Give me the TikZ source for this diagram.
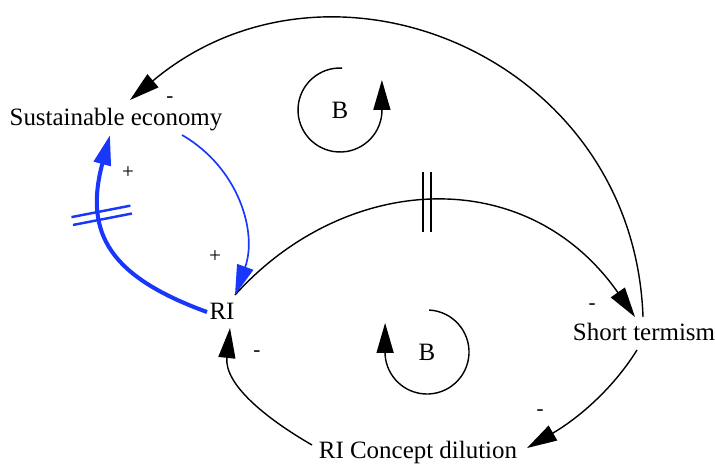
\documentclass[tikz,border=0pt]{standalone}
\usepackage{fontspec}
\setmainfont{Liberation Serif}
\usepackage{tikz}
\usetikzlibrary{arrows.meta, decorations.markings}
\definecolor{linkblue}{RGB}{25,55,250}

\tikzset{
  var/.style={anchor=base, inner sep=0pt, font=\fontsize{14.2}{17}\selectfont},
  loopname/.style={inner sep=0pt, font=\fontsize{14.2}{17}\selectfont},
  sign/.style={inner sep=0pt, font=\fontsize{12}{14}\selectfont},
  link/.style={line width=0.8pt, -{Triangle[length=0.6cm, width=0.34cm]}},
  bluelink/.style={link, linkblue, line width=0.95pt},
  delay/.style n args={3}{postaction={decorate}, decoration={markings,
    mark=at position #1 with {\pgftransformresetnontranslations
      \draw[-, line width=#2, rotate=#3] (-4,-30) -- (-4,30) (4,-30) -- (4,30);}}},
}

\begin{document}
\begin{tikzpicture}[x=0.02cm, y=0.02cm]
  \useasboundingbox (0,0) rectangle (715,464);
  \node[var] (se) at (116,339) {Sustainable economy};
  \node[var] (ri) at (222,145) {RI};
  \node[var] (st) at (644,124) {Short termism};
  \node[var] (rcd) at (418,6) {RI Concept dilution};
  \node[loopname] (btop) at (340,354) {B};
  \node[loopname] (bbot) at (427,112) {B};

  \draw[link] ([shift={(-1,23)}]st.base) to[out=92, in=40, looseness=1.2] ([shift={(14,25)}]se.base);
  \draw[link, delay={0.47}{0.8pt}{0}] ([shift={(13,24)}]ri.base) to[out=48, in=125, out looseness=1.05, in looseness=1.21] ([shift={(-9,23)}]st.base);
  \draw[bluelink] ([shift={(66,-10)}]se.base) to[out=-30, in=70] ([shift={(13,24)}]ri.base);
  \draw[bluelink, line width=2.3pt, delay={0.65}{1.4pt}{-79}] ([shift={(-15,7)}]ri.base) to[out=160, in=-105, looseness=1.3] ([shift={(-6,-10)}]se.base);
  \draw[link] ([shift={(-106,13)}]rcd.base) to[out=150, in=-96] ([shift={(8,-9)}]ri.base);
  \draw[link] ([shift={(-7,-10)}]st.base) to[out=-122, in=30, looseness=0.9] ([shift={(109,10)}]rcd.base);

  \draw[link] ([shift={(87:42)}]btop.center) arc[start angle=87, end angle=356, radius=42] -- ++(0,33);
  \draw[link] ([shift={(87:42)}]bbot.center) arc[start angle=87, end angle=-176, radius=42] -- ++(0,32);

  \node[sign] (l1) at (170,364) {-};
  \node[sign] (l2) at (128,291) {+};
  \node[sign] (l3) at (215,207) {+};
  \node[sign] (l4) at (592,157) {-};
  \node[sign] (l5) at (257,110) {-};
  \node[sign] (l6) at (540,51) {-};
\end{tikzpicture}
\end{document}
